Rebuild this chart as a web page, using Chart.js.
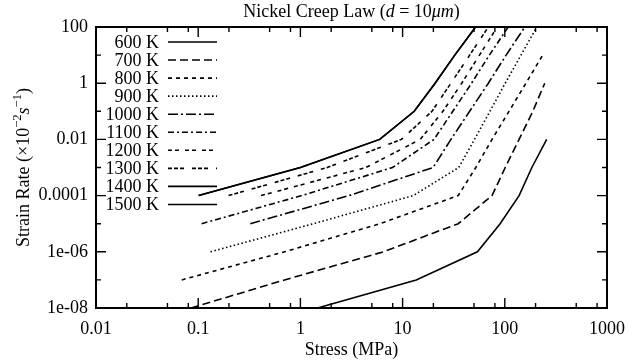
<!DOCTYPE html>
<html>
<head>
<meta charset="utf-8">
<script src="https://cdn.jsdelivr.net/npm/chart.js@4.4.0/dist/chart.umd.min.js"></script>
<style>
html, body { margin: 0; padding: 0; background: #fff; }
#wrap { width: 635px; height: 364px; }
</style>
</head>
<body>
<div id="wrap"><canvas id="creepChart" width="635" height="364"></canvas></div>
<script>
// Stress (MPa) needed to reach each strain-rate decade (x 1e-2 /s), per temperature
const labels = ['600 K', '700 K', '800 K', '900 K', '1000 K', '1100 K', '1200 K', '1300 K', '1400 K', '1500 K'];

const rate600 = [1e-8, 1e-7, 1e-6, 1e-5, 1e-4, 1e-3, 1e-2];
const stress600 = [1.47, 13.6, 54, 90, 138, 184, 257];

const rate700 = [1e-8, 1e-7, 1e-6, 1e-5, 1e-4, 1e-3, 1e-2, 1e-1, 1];
const stress700 = [0.085, 0.70, 6.5, 35, 75, 101, 138, 188, 246];

const rate800 = [1e-7, 1e-6, 1e-5, 1e-4, 1e-3, 1e-2, 1e-1, 1, 10];
const stress800 = [0.069, 0.70, 6.0, 35, 52, 75, 110, 161, 235];

const rate900 = [1e-6, 1e-5, 1e-4, 1e-3, 1e-2, 1e-1, 1, 10, 100];
const stress900 = [0.132, 1.34, 12.7, 35.4, 50.6, 71.5, 101, 144, 206];

const rate1000 = [1e-5, 1e-4, 1e-3, 1e-2, 1e-1, 1, 10, 100];
const stress1000 = [0.323, 2.99, 19.9, 29.7, 45.3, 69, 103, 157];

const rate1100 = [1e-5, 1e-4, 1e-3, 1e-2, 1e-1, 1, 10, 100];
const stress1100 = [0.108, 1.03, 7.96, 20.3, 31, 47.3, 70.6, 108];

const rate1200 = [1e-4, 1e-3, 1e-2, 1e-1, 1, 10, 100];
const stress1200 = [0.412, 4.37, 14.9, 24.8, 37.9, 56.5, 84.4];

const rate1300 = [1e-4, 1e-3, 1e-2, 1e-1, 1, 10, 100];
const stress1300 = [0.198, 1.83, 9.73, 19.4, 29.7, 45.3, 69];

// 1400 K and 1500 K lie on the same line over this range
const rate1400 = [1e-4, 1e-3, 1e-2, 1e-1, 1, 10, 100];
const stress1400 = [0.101, 1.0, 5.97, 13.0, 20.8, 32.4, 51.8];
const rate1500 = [1e-4, 1e-3, 1e-2, 1e-1, 1, 10, 100];
const stress1500 = [0.101, 1.0, 5.97, 13.0, 20.8, 32.4, 51.8];

const rates = [rate600, rate700, rate800, rate900, rate1000, rate1100, rate1200, rate1300, rate1400, rate1500];
const stresses = [stress600, stress700, stress800, stress900, stress1000, stress1100, stress1200, stress1300, stress1400, stress1500];

const xTicks = [0.01, 0.1, 1, 10, 100, 1000];
const xTickLabels = ['0.01', '0.1', '1', '10', '100', '1000'];
const yTicks = [1e-8, 1e-6, 1e-4, 1e-2, 1, 100];
const yTickLabels = ['1e-08', '1e-06', '0.0001', '0.01', '1', '100'];
const yMinor = [1e-7, 1e-5, 1e-3, 1e-1, 10];
const xMinorSteps = [2, 5, 8];

const dashes = [[], [8, 4], [4, 4], [1.5, 2.5], [10, 3, 2, 3], [6, 3, 2, 3], [4, 3, 4, 6], [4, 2, 4, 2, 4, 8], [], []];

const serif = "'Liberation Serif', 'Times New Roman', serif";
const fontSize = 18;

// draw a run of plain / italic / superscript pieces centred on (cx, cy)
function drawRich(ctx, runs, cx, cy, size) {
    const fontFor = r => (r.it ? 'italic ' : '') + (r.sup ? size * 0.7 : size) + 'px ' + serif;
    let total = 0;
    runs.forEach(r => { ctx.font = fontFor(r); total += ctx.measureText(r.t).width; });
    let x = cx - total / 2;
    ctx.textBaseline = 'middle';
    ctx.textAlign = 'left';
    runs.forEach(r => {
        ctx.font = fontFor(r);
        ctx.fillText(r.t, x, r.sup ? cy - size * 0.35 : cy);
        x += ctx.measureText(r.t).width;
    });
}

const decorations = {
    id: 'decorations',
    afterDraw(chart) {
        const ctx = chart.ctx;
        const { left, right, top, bottom } = chart.chartArea;
        const xs = chart.scales.x, ys = chart.scales.y;
        ctx.save();
        ctx.fillStyle = '#000';
        ctx.strokeStyle = '#000';

        // tick marks, pointing inward on all four sides
        ctx.lineWidth = 1.4;
        ctx.beginPath();
        xTicks.forEach(v => {
            const px = xs.getPixelForValue(v);
            ctx.moveTo(px, bottom); ctx.lineTo(px, bottom - 10);
            ctx.moveTo(px, top); ctx.lineTo(px, top + 10);
            if (v < 1000) {
                xMinorSteps.forEach(m => {
                    const p = xs.getPixelForValue(v * m);
                    ctx.moveTo(p, bottom); ctx.lineTo(p, bottom - 5);
                    ctx.moveTo(p, top); ctx.lineTo(p, top + 5);
                });
            }
        });
        yTicks.forEach(v => {
            const py = ys.getPixelForValue(v);
            ctx.moveTo(left, py); ctx.lineTo(left + 10, py);
            ctx.moveTo(right, py); ctx.lineTo(right - 10, py);
        });
        yMinor.forEach(v => {
            const py = ys.getPixelForValue(v);
            ctx.moveTo(left, py); ctx.lineTo(left + 5, py);
            ctx.moveTo(right, py); ctx.lineTo(right - 5, py);
        });
        ctx.stroke();

        // plot frame
        ctx.lineWidth = 2;
        ctx.strokeRect(left, top, right - left, bottom - top);

        // key inside the plot, text right-aligned with a line sample
        chart.data.datasets.forEach((ds, i) => {
            const y = top + 15 + i * 18.05;
            ctx.font = fontSize + 'px ' + serif;
            ctx.textAlign = 'right';
            ctx.textBaseline = 'middle';
            ctx.fillText(ds.label, left + 63, y + 1);
            ctx.beginPath();
            ctx.setLineDash(ds.borderDash);
            ctx.lineWidth = ds.borderWidth;
            ctx.moveTo(left + 72, y);
            ctx.lineTo(left + 121, y);
            ctx.stroke();
            ctx.setLineDash([]);
        });

        // titles
        drawRich(ctx, [
            { t: 'Nickel Creep Law (' },
            { t: 'd', it: true },
            { t: ' = 10' },
            { t: 'μm', it: true },
            { t: ')' }
        ], (left + right) / 2, 12, fontSize);

        ctx.save();
        ctx.translate(24, (top + bottom) / 2);
        ctx.rotate(-Math.PI / 2);
        drawRich(ctx, [
            { t: 'Strain Rate (×10' },
            { t: '−2', sup: true },
            { t: 's', it: true },
            { t: '−1', sup: true },
            { t: ')' }
        ], 0, 0, fontSize);
        ctx.restore();

        ctx.restore();
    }
};

const datasets = labels.map((label, i) => ({
    label: label,
    data: stresses[i].map((s, j) => ({ x: s, y: rates[i][j] })),
    borderColor: '#000',
    borderWidth: 1.6,
    borderDash: dashes[i],
    pointRadius: 0,
    fill: false,
    tension: 0
}));

new Chart(document.getElementById('creepChart'), {
    type: 'line',
    data: { datasets: datasets },
    options: {
        responsive: false,
        animation: false,
        layout: { padding: { top: 27, right: 22, left: 0, bottom: 0 } },
        plugins: { legend: { display: false }, tooltip: { enabled: false } },
        scales: {
            x: {
                type: 'logarithmic',
                min: 0.01,
                max: 1000,
                grid: { display: false, drawTicks: false },
                border: { display: false },
                afterBuildTicks: s => { s.ticks = xTicks.map(v => ({ value: v })); },
                afterFit: s => { s.height = 56; },
                ticks: {
                    color: '#000',
                    padding: 10,
                    maxRotation: 0,
                    autoSkip: false,
                    font: { family: serif, size: fontSize },
                    callback: (v, i) => xTickLabels[i]
                },
                title: {
                    display: true,
                    text: 'Stress (MPa)',
                    color: '#000',
                    padding: { top: 0, bottom: 3 },
                    font: { family: serif, size: fontSize }
                }
            },
            y: {
                type: 'logarithmic',
                min: 1e-8,
                max: 100,
                grid: { display: false, drawTicks: false },
                border: { display: false },
                afterBuildTicks: s => { s.ticks = yTicks.map(v => ({ value: v })); },
                afterFit: s => { s.width = 96; },
                ticks: {
                    color: '#000',
                    padding: 8,
                    autoSkip: false,
                    font: { family: serif, size: fontSize },
                    callback: (v, i) => yTickLabels[i]
                }
            }
        }
    },
    plugins: [decorations]
});
</script>
</body>
</html>
